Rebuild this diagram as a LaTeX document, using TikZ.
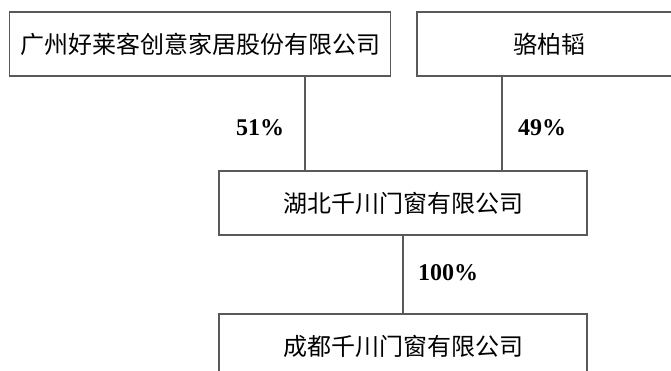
\documentclass[tikz,border=0pt]{standalone}
\usepackage{fontspec}
\setmainfont{Liberation Serif}
\newfontfamily\cjk{Noto Sans CJK SC}
\usetikzlibrary{positioning}

\begin{document}
\begin{tikzpicture}[x=1pt,y=-1pt,
        line width=1.1pt,draw=black!65,
        org box/.style={rectangle,draw=black!65,minimum height=64pt,inner sep=0pt,
            font=\cjk\fontsize{24}{24}\selectfont},
        share/.style={font=\bfseries\fontsize{24}{24}\selectfont}]

        \useasboundingbox (0,0) rectangle (671,370);

        \node[org box,minimum width=381pt] (gz) at (200,44) {广州好莱客创意家居股份有限公司};
        \node[org box,minimum width=264pt] (lbt) at (549,44) {骆柏韬};
        \node[org box,minimum width=368pt] (hb) at (403,203) {湖北千川门窗有限公司};
        \node[org box,minimum width=368pt] (cd) at (403,346) {成都千川门窗有限公司};

        \draw[black!65] ([xshift=105pt]gz.south) -- ([xshift=105pt]gz.south |- hb.north);
        \draw[black!65] ([xshift=-47pt]lbt.south) -- ([xshift=-47pt]lbt.south |- hb.north);
        \draw[black!65] (hb) -- (cd);

        \node[share] (p51) at (260,128) {51\%};
        \node[share] (p49) at (542,128) {49\%};
        \node[share] (p100) at (448,273) {100\%};

    \end{tikzpicture}
\end{document}
